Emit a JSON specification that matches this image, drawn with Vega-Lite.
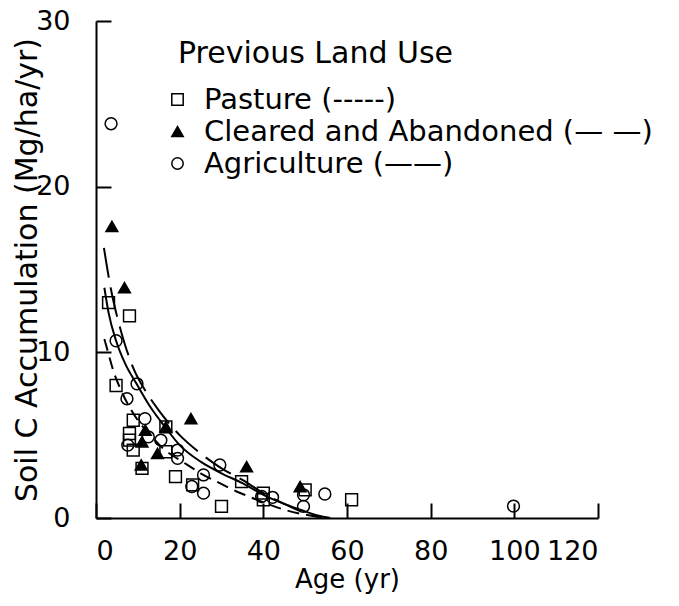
{
  "$schema": "https://vega.github.io/schema/vega-lite/v6.json",
  "width": 502,
  "height": 497,
  "autosize": "none",
  "padding": {"left": 96, "top": 21, "right": 81, "bottom": 88},
  "background": "white",
  "config": {
    "font": "DejaVu Sans",
    "view": {"stroke": null},
    "axis": {
      "grid": false,
      "domainColor": "black",
      "domainWidth": 2,
      "tickColor": "black",
      "tickWidth": 2,
      "tickSize": -15,
      "labelColor": "black",
      "labelFontSize": 27,
      "titleColor": "black",
      "titleFontWeight": "normal"
    },
    "legend": {
      "orient": "none",
      "legendX": 82,
      "legendY": 18,
      "padding": 0,
      "titleFontSize": 30,
      "titleFontWeight": "normal",
      "titleColor": "black",
      "titlePadding": 16,
      "titleLimit": 600,
      "labelFontSize": 29,
      "labelColor": "black",
      "labelOffset": 12,
      "symbolOffset": -15,
      "symbolSize": 130,
      "symbolStrokeColor": "black",
      "symbolStrokeWidth": 1.5,
      "rowPadding": 2,
      "labelLimit": 600
    }
  },
  "datasets": {
    "points": [
      {"age": 3.0, "acc": 13.0, "use": "Pasture"},
      {"age": 8.0, "acc": 12.2, "use": "Pasture"},
      {"age": 4.8, "acc": 8.0, "use": "Pasture"},
      {"age": 8.9, "acc": 5.9, "use": "Pasture"},
      {"age": 8.0, "acc": 5.1, "use": "Pasture"},
      {"age": 8.0, "acc": 4.7, "use": "Pasture"},
      {"age": 8.9, "acc": 4.1, "use": "Pasture"},
      {"age": 11.0, "acc": 3.0, "use": "Pasture"},
      {"age": 16.7, "acc": 4.0, "use": "Pasture"},
      {"age": 16.7, "acc": 5.5, "use": "Pasture"},
      {"age": 19.0, "acc": 2.5, "use": "Pasture"},
      {"age": 23.1, "acc": 2.0, "use": "Pasture"},
      {"age": 30.0, "acc": 0.7, "use": "Pasture"},
      {"age": 34.8, "acc": 2.2, "use": "Pasture"},
      {"age": 40.0, "acc": 1.5, "use": "Pasture"},
      {"age": 40.0, "acc": 1.1, "use": "Pasture"},
      {"age": 50.0, "acc": 1.7, "use": "Pasture"},
      {"age": 61.1, "acc": 1.1, "use": "Pasture"},
      {"age": 3.6, "acc": 23.8, "use": "Agriculture"},
      {"age": 4.8, "acc": 10.7, "use": "Agriculture"},
      {"age": 7.4, "acc": 7.2, "use": "Agriculture"},
      {"age": 7.6, "acc": 4.4, "use": "Agriculture"},
      {"age": 9.8, "acc": 8.1, "use": "Agriculture"},
      {"age": 11.7, "acc": 6.0, "use": "Agriculture"},
      {"age": 12.5, "acc": 4.9, "use": "Agriculture"},
      {"age": 15.5, "acc": 4.7, "use": "Agriculture"},
      {"age": 19.5, "acc": 4.1, "use": "Agriculture"},
      {"age": 19.5, "acc": 3.6, "use": "Agriculture"},
      {"age": 22.9, "acc": 1.9, "use": "Agriculture"},
      {"age": 25.7, "acc": 2.6, "use": "Agriculture"},
      {"age": 25.7, "acc": 1.5, "use": "Agriculture"},
      {"age": 29.6, "acc": 3.2, "use": "Agriculture"},
      {"age": 39.6, "acc": 1.3, "use": "Agriculture"},
      {"age": 42.2, "acc": 1.25, "use": "Agriculture"},
      {"age": 49.6, "acc": 1.4, "use": "Agriculture"},
      {"age": 49.6, "acc": 0.7, "use": "Agriculture"},
      {"age": 54.7, "acc": 1.45, "use": "Agriculture"},
      {"age": 99.8, "acc": 0.72, "use": "Agriculture"},
      {"age": 3.8, "acc": 17.6, "use": "Cleared and Abandoned"},
      {"age": 6.8, "acc": 13.9, "use": "Cleared and Abandoned"},
      {"age": 11.8, "acc": 5.3, "use": "Cleared and Abandoned"},
      {"age": 11.0, "acc": 4.6, "use": "Cleared and Abandoned"},
      {"age": 14.7, "acc": 3.9, "use": "Cleared and Abandoned"},
      {"age": 16.7, "acc": 5.5, "use": "Cleared and Abandoned"},
      {"age": 22.7, "acc": 6.0, "use": "Cleared and Abandoned"},
      {"age": 10.8, "acc": 3.2, "use": "Cleared and Abandoned"},
      {"age": 36.0, "acc": 3.1, "use": "Cleared and Abandoned"},
      {"age": 48.8, "acc": 1.9, "use": "Cleared and Abandoned"}
    ],
    "curves": [
      {"age": 1.9, "acc": 16.3, "curve": "Cleared and Abandoned"},
      {"age": 3.5, "acc": 13.9, "curve": "Cleared and Abandoned"},
      {"age": 5, "acc": 12.2, "curve": "Cleared and Abandoned"},
      {"age": 7, "acc": 10.4, "curve": "Cleared and Abandoned"},
      {"age": 9, "acc": 9.0, "curve": "Cleared and Abandoned"},
      {"age": 12, "acc": 7.6, "curve": "Cleared and Abandoned"},
      {"age": 15, "acc": 6.5, "curve": "Cleared and Abandoned"},
      {"age": 20, "acc": 5.0, "curve": "Cleared and Abandoned"},
      {"age": 25, "acc": 3.9, "curve": "Cleared and Abandoned"},
      {"age": 30, "acc": 3.0, "curve": "Cleared and Abandoned"},
      {"age": 35, "acc": 2.3, "curve": "Cleared and Abandoned"},
      {"age": 40, "acc": 1.5, "curve": "Cleared and Abandoned"},
      {"age": 45, "acc": 0.85, "curve": "Cleared and Abandoned"},
      {"age": 50, "acc": 0.3, "curve": "Cleared and Abandoned"},
      {"age": 54, "acc": 0, "curve": "Cleared and Abandoned"},
      {"age": 2, "acc": 13.9, "curve": "Agriculture"},
      {"age": 3, "acc": 12.4, "curve": "Agriculture"},
      {"age": 4.8, "acc": 10.7, "curve": "Agriculture"},
      {"age": 7, "acc": 9.3, "curve": "Agriculture"},
      {"age": 9.7, "acc": 8.1, "curve": "Agriculture"},
      {"age": 13, "acc": 6.7, "curve": "Agriculture"},
      {"age": 16.5, "acc": 5.5, "curve": "Agriculture"},
      {"age": 20, "acc": 4.4, "curve": "Agriculture"},
      {"age": 25, "acc": 3.4, "curve": "Agriculture"},
      {"age": 30, "acc": 2.7, "curve": "Agriculture"},
      {"age": 35, "acc": 2.1, "curve": "Agriculture"},
      {"age": 40, "acc": 1.4, "curve": "Agriculture"},
      {"age": 45, "acc": 0.85, "curve": "Agriculture"},
      {"age": 50, "acc": 0.4, "curve": "Agriculture"},
      {"age": 53, "acc": 0.15, "curve": "Agriculture"},
      {"age": 56, "acc": 0, "curve": "Agriculture"},
      {"age": 2, "acc": 10.8, "curve": "Pasture"},
      {"age": 3, "acc": 9.9, "curve": "Pasture"},
      {"age": 4, "acc": 9.0, "curve": "Pasture"},
      {"age": 6, "acc": 7.7, "curve": "Pasture"},
      {"age": 8, "acc": 6.7, "curve": "Pasture"},
      {"age": 10, "acc": 5.9, "curve": "Pasture"},
      {"age": 13, "acc": 5.0, "curve": "Pasture"},
      {"age": 16, "acc": 4.2, "curve": "Pasture"},
      {"age": 20, "acc": 3.5, "curve": "Pasture"},
      {"age": 22.5, "acc": 3.1, "curve": "Pasture"},
      {"age": 25, "acc": 2.7, "curve": "Pasture"},
      {"age": 28.8, "acc": 2.2, "curve": "Pasture"},
      {"age": 31.2, "acc": 1.9, "curve": "Pasture"},
      {"age": 33.6, "acc": 1.6, "curve": "Pasture"},
      {"age": 36, "acc": 1.35, "curve": "Pasture"},
      {"age": 40, "acc": 0.95, "curve": "Pasture"},
      {"age": 45, "acc": 0.5, "curve": "Pasture"},
      {"age": 50, "acc": 0.2, "curve": "Pasture"},
      {"age": 55, "acc": 0, "curve": "Pasture"}
    ]
  },
  "layer": [
    {
      "data": {"name": "points"},
      "mark": {"type": "point", "filled": true, "strokeWidth": 1.5, "opacity": 1, "size": 140},
      "encoding": {
        "x": {
          "field": "age", "type": "quantitative",
          "scale": {"domain": [0, 120], "nice": false, "zero": true},
          "axis": {"values": [0, 20, 40, 60, 80, 100, 120], "labelPadding": 35, "title": "Age (yr)", "titleFontSize": 26, "titlePadding": 2}
        },
        "y": {
          "field": "acc", "type": "quantitative",
          "scale": {"domain": [0, 30], "nice": false},
          "axis": {"values": [0, 10, 20, 30], "labelPadding": 41, "title": "Soil C Accumulation (Mg/ha/yr)", "titleFontSize": 30, "titlePadding": -7}
        },
        "shape": {
          "field": "use", "type": "nominal",
          "scale": {"domain": ["Pasture", "Cleared and Abandoned", "Agriculture"], "range": ["square", "triangle-up", "circle"]},
          "legend": {
            "title": "Previous Land Use",
            "labelExpr": "datum.label == 'Pasture' ? 'Pasture (-----)' : datum.label == 'Agriculture' ? 'Agriculture (——)' : 'Cleared and Abandoned (— —)'"
          }
        },
        "fill": {
          "field": "use", "type": "nominal",
          "scale": {"domain": ["Pasture", "Cleared and Abandoned", "Agriculture"], "range": ["transparent", "black", "transparent"]},
          "legend": {
            "title": "Previous Land Use",
            "labelExpr": "datum.label == 'Pasture' ? 'Pasture (-----)' : datum.label == 'Agriculture' ? 'Agriculture (——)' : 'Cleared and Abandoned (— —)'"
          }
        },
        "stroke": {
          "field": "use", "type": "nominal",
          "scale": {"domain": ["Pasture", "Cleared and Abandoned", "Agriculture"], "range": ["black", "black", "black"]},
          "legend": {
            "title": "Previous Land Use",
            "labelExpr": "datum.label == 'Pasture' ? 'Pasture (-----)' : datum.label == 'Agriculture' ? 'Agriculture (——)' : 'Cleared and Abandoned (— —)'"
          }
        }
      }
    },
    {
      "data": {"name": "curves"},
      "transform": [{"filter": "datum.curve == 'Pasture'"}],
      "mark": {"type": "line", "color": "black", "strokeWidth": 2, "interpolate": "monotone", "strokeDash": [12, 7]},
      "encoding": {
        "x": {"field": "age", "type": "quantitative"},
        "y": {"field": "acc", "type": "quantitative"}
      }
    },
    {
      "data": {"name": "curves"},
      "transform": [{"filter": "datum.curve == 'Cleared and Abandoned'"}],
      "mark": {"type": "line", "color": "black", "strokeWidth": 2, "interpolate": "monotone", "strokeDash": [30, 10]},
      "encoding": {
        "x": {"field": "age", "type": "quantitative"},
        "y": {"field": "acc", "type": "quantitative"}
      }
    },
    {
      "data": {"name": "curves"},
      "transform": [{"filter": "datum.curve == 'Agriculture'"}],
      "mark": {"type": "line", "color": "black", "strokeWidth": 2, "interpolate": "monotone"},
      "encoding": {
        "x": {"field": "age", "type": "quantitative"},
        "y": {"field": "acc", "type": "quantitative"}
      }
    }
  ]
}
